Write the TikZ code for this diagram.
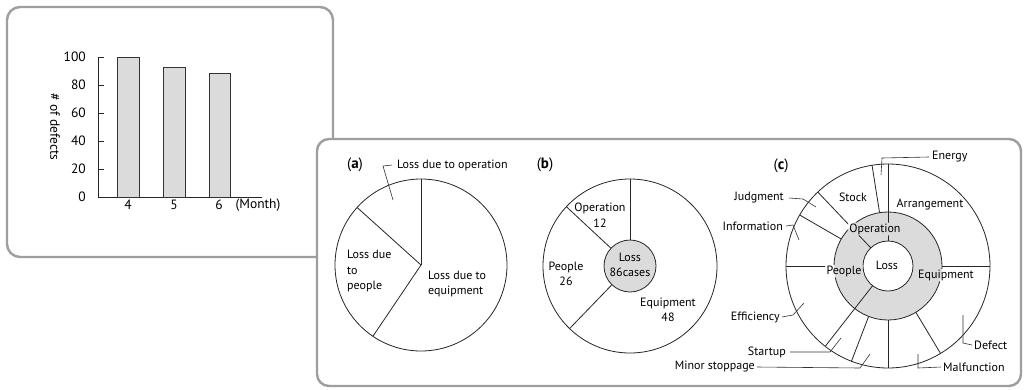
\documentclass[tikz,border=0pt]{standalone}
\usepackage{fontspec}
\usetikzlibrary{calc}
\setmainfont{PT Sans}
\definecolor{framegray}{gray}{0.62}
\definecolor{fillgray}{gray}{0.86}
\begin{document}
\begin{tikzpicture}[x=1pt,y=-1pt,
  every node/.style={inner sep=0pt, font=\fontsize{12}{15.5}\selectfont},
  chart/.style={font=\fontsize{13.5}{16}\selectfont},
  tag/.style={font=\fontsize{15}{17}\selectfont},
  frame/.style={draw=framegray, line width=2.4pt, rounded corners=13pt, fill=white},
  ln/.style={line width=0.8pt, draw=black!85},
  lead/.style={line width=0.6pt, draw=black!80},
  bar/.style={draw=black!80, fill=fillgray, line width=0.8pt},
  ringlabel/.style={inner xsep=1.2pt, inner ysep=0.6pt}]
\useasboundingbox (0,0) rectangle (1026,389);

% ---------- bar chart ----------
\draw[frame] (7,7) rectangle (333,257);
\draw[ln] (98,57) -- (98,197) -- (262,197);
\foreach \v/\yy in {100/57,80/85,60/113,40/141,20/169,0/197} {
  \draw[ln] (98,\yy) -- (104,\yy);
  \node[chart, anchor=east] (tick\v) at (86,\yy) {\v};
}
\draw[bar] (117,197) rectangle (139,57);
\draw[bar] (163,197) rectangle (185,67);
\draw[bar] (209,197) rectangle (230,73);
\node[chart] (m4) at (128,205) {4};
\node[chart] (m5) at (174,205) {5};
\node[chart] (m6) at (219,205) {6};
\node[chart] (month) at (258,205) {(Month)};
\node[chart, rotate=-90] (ylab) at (55,127) {\# of defects};

% ---------- loss analysis frame ----------
\draw[frame, rounded corners=12pt] (317,139) rectangle (1021,386);

% (a) simple pie
\node[tag] (la) at (355,165) {(\textbf{a})};
\coordinate (A) at (421,265);
\draw[ln] (A) circle[radius=86];
\draw[ln] (A) -- ++(-90:86);
\draw[ln] (A) -- ++(-138:86);
\draw[ln] (A) -- ++(-236:86);
\node[anchor=west] (opA) at (397,165) {Loss due to operation};
\coordinate (opAk) at (383,166);
\coordinate (opAe) at (393,200);
\draw[lead] ([xshift=-5pt]opA.west) -- (opAk) -- (opAe);
\node[anchor=west, align=left] (peA) at (347,271) {Loss due\\to\\people};
\node[anchor=west, align=left] (eqA) at (428,284) {Loss due to\\equipment};

% (b) pie with centre
\node[tag] (lb) at (545,165) {(\textbf{b})};
\coordinate (B) at (630,266);
\draw[ln] (B) circle[radius=87];
\draw[ln, fill=fillgray] (B) circle[radius=26];
\draw[ln] ($(B)+(-90:26)$) -- ($(B)+(-90:87)$);
\draw[ln] ($(B)+(-137:26)$) -- ($(B)+(-137:87)$);
\draw[ln] ($(B)+(-226:26)$) -- ($(B)+(-226:87)$);
\node[align=center] (opB) at (600,215) {Operation\\12};
\node[align=center] (peB) at (566,274) {People\\26};
\node[align=center] (lossB) at (630,265) {Loss\\86cases};
\node[align=center] (eqB) at (668,310) {Equipment\\48};

% (c) two-level breakdown
\node[tag] (lc) at (781,166) {(\textbf{c})};
\coordinate (C) at (888,266);
\draw[ln] (C) circle[radius=102];
\fill[fillgray] (C) circle[radius=54];
\fill[white] (C) circle[radius=25];

\node[ringlabel] (opC) at (875,229) {Operation};
\node[ringlabel] (peC) at (844,271) {People};
\node[ringlabel] (eqC) at (946,275) {Equipment};
\node (lossC) at (887,265) {Loss};

% ring outlines and spokes stop short of the ring labels
\begin{scope}
  \clip (0,0) -- (1026,0) -- (1026,389) -- (0,389) -- cycle
    (opC.north west) -- (opC.south west) -- (opC.south east) -- (opC.north east) -- cycle
    (peC.north west) -- (peC.south west) -- (peC.south east) -- (peC.north east) -- cycle
    (eqC.north west) -- (eqC.south west) -- (eqC.south east) -- (eqC.north east) -- cycle;
  \draw[ln] (C) circle[radius=54];
  \draw[ln] (C) circle[radius=25];
  \foreach \a in {90,133.5,232}
    \draw[ln] ($(C)+(-\a:25)$) -- ($(C)+(-\a:102)$);
  \foreach \a in {0,99,150,180,249,270,301}
    \draw[ln] ($(C)+(-\a:54)$) -- ($(C)+(-\a:102)$);
\end{scope}

\node (stock) at (853,197) {Stock};
\node (arr) at (930,205) {Arrangement};

\node[anchor=west] (energy) at (932,157) {Energy};
\draw[lead] ([xshift=-3pt]energy.west) -- (882,158) -- (881,175);
\node[anchor=east] (judg) at (784,198) {Judgment};
\draw[lead] ([xshift=5pt]judg.east) -- (803,199) -- (816,207);
\node[anchor=east] (info) at (783,226) {Information};
\draw[lead] ([xshift=3pt]info.east) -- (793,225) -- (799,240);
\node[anchor=east] (eff) at (780,317) {Efficiency};
\draw[lead] ([xshift=2pt]eff.east) -- (793,315) -- (804,303);
\node[anchor=east] (start) at (786,352) {Startup};
\draw[lead] ([xshift=4pt]start.east) -- (830,352) -- (841,338);
\node[anchor=east] (minor) at (755,367) {Minor stoppage};
\draw[lead] ([xshift=2pt]minor.east) -- (860,368) -- (870,354);
\node[anchor=west] (malf) at (943,367) {Malfunction};
\draw[lead] ([xshift=-2pt]malf.west) -- (918,368) -- (918,354);
\node[anchor=west] (defect) at (974,345) {Defect};
\draw[lead] ([xshift=-2pt]defect.west) -- (963,343) -- (963,315);
\end{tikzpicture}
\end{document}
